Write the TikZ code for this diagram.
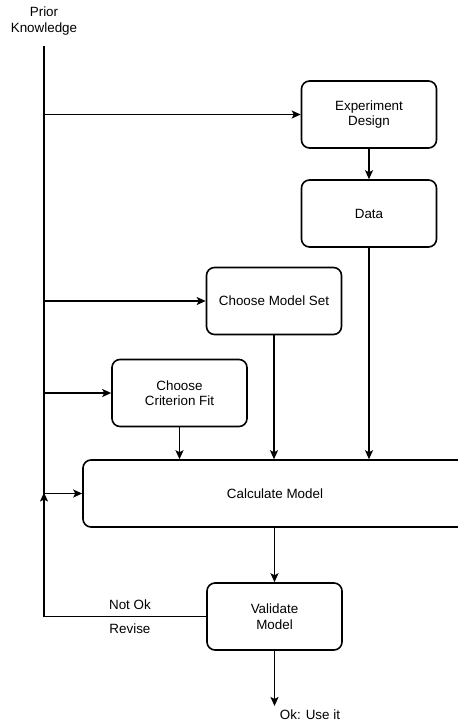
\documentclass[tikz,border=0pt]{standalone}
\usepackage{fontspec}
\setmainfont{Liberation Sans}
\usetikzlibrary{arrows.meta}

\tikzset{
  box/.style={draw, rounded corners=8pt, line width=1.6pt, align=center,
    minimum width=135pt, minimum height=67pt, inner sep=2pt},
  flow/.style={-{Stealth[length=9pt,width=8pt,inset=2pt]}, line width=1.6pt},
}

\begin{document}
\begin{tikzpicture}[x=1pt, y=-1pt, font=\fontsize{13.4}{15.5}\selectfont]
\useasboundingbox (0,0) rectangle (458,724);

\node[align=center] (prior) at (44,21) {Prior\\Knowledge};
\coordinate (top) at (44,46);

\node[box] (design) at (369,114.5) {Experiment\\Design};
\node[box] (data) at (369,213.5) {Data};
\node[box] (modelset) at (274,301) {Choose Model Set};
\node[box] (criterion) at (179.5,393) {Choose\\Criterion Fit};
\node[box, minimum width=384pt] (calc) at (275,493.5) {Calculate Model};
\node[box] (validate) at (274.5,616.5) {Validate\\Model};
\node (use) at (310,715) {Ok: Use it};
\coordinate (out) at (274.5,706);
\coordinate (loop) at (44,616.5);

% prior knowledge trunk and its branches
\draw[line width=1.6pt] (top) -- (top |- calc.west);
\draw[flow] (top |- design) -- (design);
\draw[flow] (top |- modelset) -- (modelset);
\draw[flow] (top |- criterion) -- (criterion);
\draw[flow] (top |- calc.west) -- (calc.west);

\draw[flow] (design) -- (data);
\draw[flow] (data) -- (data |- calc.north);
\draw[flow] (modelset) -- (modelset |- calc.north);
\draw[flow] (criterion) -- (criterion |- calc.north);
\draw[flow] (calc.south -| validate) -- (validate);
\draw[flow] (validate) -- (out);

% revise loop
\draw[flow] (validate.west) -- node[pos=0.47, above=3pt] {Not Ok}
  node[pos=0.47, below=3pt] {Revise} (loop) -- ([yshift=1pt]top |- calc.west);
\end{tikzpicture}
\end{document}
